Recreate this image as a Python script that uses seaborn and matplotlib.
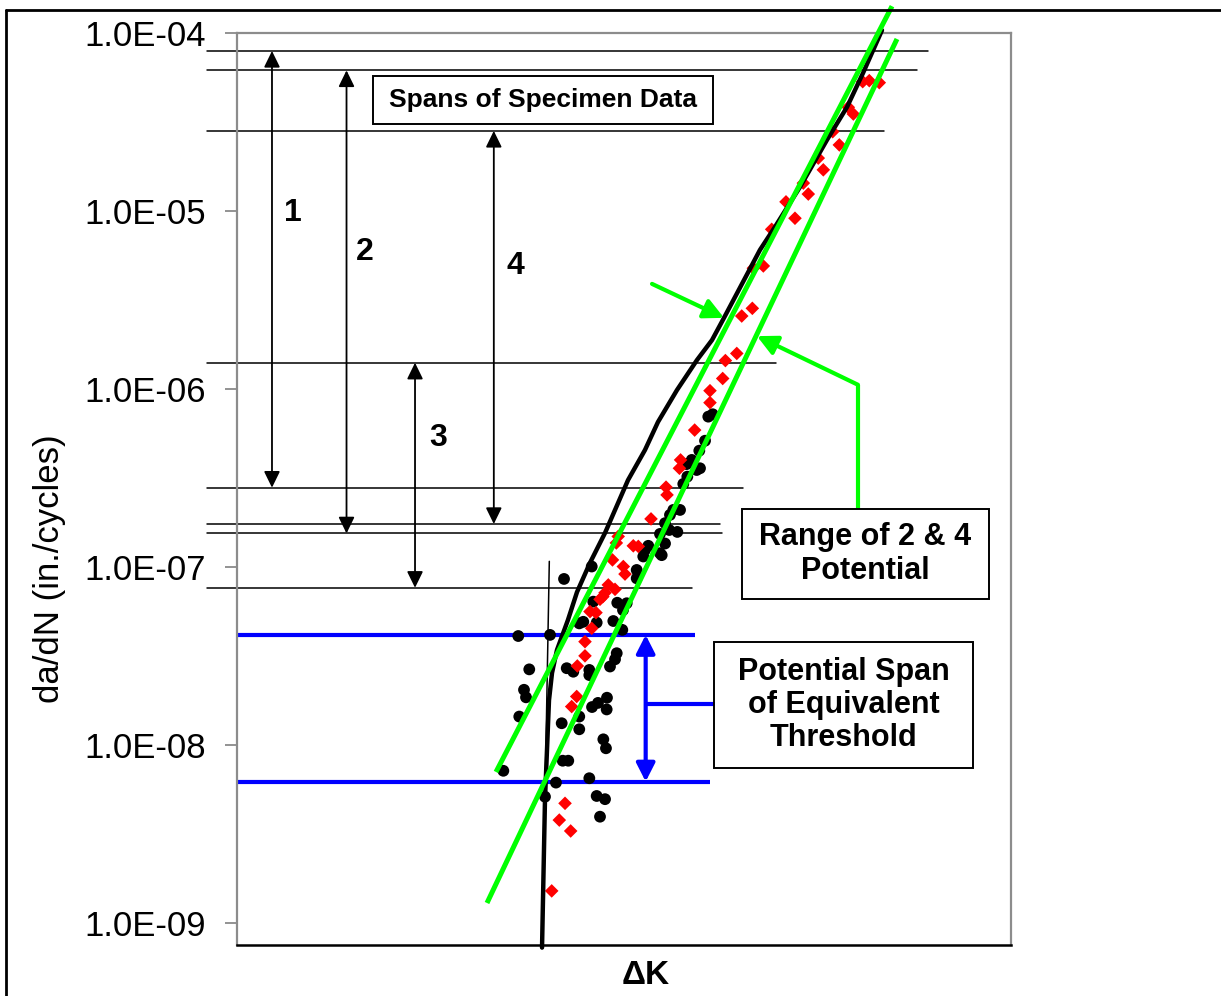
import matplotlib
matplotlib.use("Agg")
import matplotlib.pyplot as plt
import seaborn as sns
import pandas as pd
from matplotlib.patches import Rectangle
from matplotlib.lines import Line2D
from matplotlib.ticker import NullLocator

# ---------------- data ----------------
black_dk = [61.46, 60.89, 60.47, 59.73, 58.75, 58.10, 59.82, 59.39, 58.18, 57.66,
            56.37, 57.24, 55.94, 55.30, 55.85, 56.89, 54.65, 55.30, 53.14, 52.71,
            54.65, 52.49, 54.87, 51.64, 51.64, 45.83, 42.25, 46.03, 49.13, 50.35,
            44.74, 44.22, 46.47, 48.62, 49.78, 36.34, 40.44, 49.06, 48.84, 48.19,
            42.60, 43.45, 45.52, 45.52, 37.76, 37.08, 37.34, 47.80, 46.64, 45.87,
            47.76, 36.47, 41.95, 44.22, 44.22, 47.33, 47.67, 42.08, 42.80, 34.41,
            41.21, 45.52, 46.47, 47.55, 46.90, 39.79, 49.87]
black_rate = [7.24e-7, 7.02e-7, 5.14e-7, 4.52e-7, 4.01e-7, 3.80e-7, 3.60e-7, 3.52e-7, 3.23e-7, 2.94e-7,
              2.10e-7, 2.10e-7, 1.97e-7, 1.77e-7, 1.62e-7, 1.58e-7, 1.54e-7, 1.36e-7, 1.32e-7, 1.25e-7,
              1.20e-7, 1.15e-7, 1.17e-7, 9.66e-8, 8.67e-8, 1.01e-7, 8.6e-8, 6.41e-8, 6.32e-8, 6.28e-8,
              4.94e-8, 4.84e-8, 4.89e-8, 4.99e-8, 4.45e-8, 4.11e-8, 4.17e-8, 3.29e-8, 3.04e-8, 2.77e-8,
              2.71e-8, 2.59e-8, 2.65e-8, 2.48e-8, 2.67e-8, 2.05e-8, 1.86e-8, 1.85e-8, 1.73e-8, 1.64e-8,
              1.59e-8, 1.45e-8, 1.33e-8, 1.45e-8, 1.23e-8, 1.08e-8, 9.62e-9, 8.19e-9, 8.19e-9, 7.19e-9,
              6.17e-9, 6.53e-9, 5.19e-9, 4.98e-9, 3.97e-9, 5.14e-9, 5.75e-8]

red_dk = [82.98, 81.69, 80.84, 78.98, 79.63, 76.96, 77.82, 75.10, 75.75, 73.17,
          73.81, 70.93, 72.09, 69.08, 68.00, 66.71, 66.58, 65.21, 64.57, 63.10,
          62.75, 61.11, 61.11, 59.13, 57.31, 57.16, 55.43, 55.56, 53.49, 49.25,
          49.01, 51.20, 51.85, 48.51, 49.91, 50.13, 47.97, 48.84, 47.55, 47.27,
          46.90, 45.61, 46.38, 45.83, 44.96, 44.96, 43.97, 43.89, 43.24, 42.38,
          41.64, 43.11, 40.66]
red_rate = [5.28e-5, 5.42e-5, 5.35e-5, 3.84e-5, 3.52e-5, 2.80e-5, 2.36e-5, 1.99e-5, 1.71e-5, 1.44e-5,
            1.25e-5, 1.13e-5, 9.14e-6, 7.92e-6, 4.93e-6, 4.79e-6, 2.85e-6, 2.58e-6, 1.59e-6, 1.45e-6,
            1.15e-6, 9.82e-7, 8.41e-7, 5.90e-7, 4.01e-7, 3.60e-7, 2.82e-7, 2.55e-7, 1.87e-7, 1.49e-7,
            1.37e-7, 1.32e-7, 1.31e-7, 1.10e-7, 1.01e-7, 9.16e-8, 7.96e-8, 7.52e-8, 7.19e-8, 6.84e-8,
            6.61e-8, 5.64e-8, 5.56e-8, 4.54e-8, 3.82e-8, 3.18e-8, 2.79e-8, 1.88e-8, 1.65e-8, 4.72e-9,
            3.80e-9, 3.30e-9, 1.52e-9]

curve_dk = [39.41, 39.79, 40.31, 40.70, 41.34, 42.76, 43.93, 45.61, 47.55, 50.52, 52.71, 54.39,
            56.85, 59.43, 61.37, 62.92, 67.57, 69.51, 72.74, 76.23, 78.81, 80.88, 83.33]
curve_rate = [7.3e-10, 4.93e-9, 1.79e-8, 2.55e-8, 3.43e-8, 5.06e-8, 7.26e-8, 1.06e-7, 1.56e-7,
              3.09e-7, 4.56e-7, 6.55e-7, 9.91e-7, 1.46e-6, 1.89e-6, 2.52e-6, 6.07e-6, 8.17e-6,
              1.37e-5, 2.52e-5, 3.85e-5, 5.98e-5, 1.04e-4]

green_upper_dk = [33.46, 84.63]
green_upper_rate = [7.08e-9, 1.42e-4]
green_lower_dk = [32.30, 85.27]
green_lower_rate = [1.30e-9, 9.29e-5]

guide_dk = [40.35, 39.79]
guide_rate = [1.08e-7, 4.93e-9]

span_levels = [7.96e-5, 6.19e-5, 2.83e-5, 1.41e-6, 2.80e-7, 1.75e-7, 1.55e-7, 7.67e-8]
span_line_end = [89.28, 87.86, 83.59, 69.64, 65.37, 62.35, 62.60, 58.75]

span_labels = ["1", "2", "3", "4"]
span_x = [4.52, 14.15, 23.00, 33.18]
span_top = [7.96e-5, 6.19e-5, 1.41e-6, 2.83e-5]
span_bottom = [2.80e-7, 1.55e-7, 7.67e-8, 1.75e-7]
span_label_x = [7.24, 16.54, 25.97, 35.92]
span_label_y = [9.78e-6, 5.90e-6, 5.32e-7, 4.93e-6]

threshold_levels = [4.17e-8, 6.25e-9]
threshold_end = [59.17, 61.11]

ytick_vals = [1e-9, 1e-8, 1e-7, 1e-6, 1e-5, 1e-4]
ytick_labels = ["1.0E-09", "1.0E-08", "1.0E-07", "1.0E-06", "1.0E-05", "1.0E-04"]

# ---------------- figure ----------------
sns.set_theme(style="white")
plt.rcParams['font.family'] = ['Liberation Sans', 'DejaVu Sans']
plt.rcParams['text.color'] = 'black'
plt.rcParams['axes.labelcolor'] = 'black'
plt.rcParams['ytick.color'] = 'black'
plt.rcParams['xtick.color'] = 'black'

W, H = 1221, 996
fig = plt.figure(figsize=(W / 100, H / 100), dpi=100)


def fx(px):
    return px / W


def fy(py):
    return 1 - py / H


ax = fig.add_axes([fx(237), fy(945), fx(1011) - fx(237), fy(33.3) - fy(945)])
ax.set_yscale('log')
ax.set_xlim(0, 100)
ax.set_ylim(7.55e-10, 1e-4)

black_df = pd.DataFrame({"dK": black_dk, "rate": black_rate})
red_df = pd.DataFrame({"dK": red_dk, "rate": red_rate})

# threshold lines (blue)
for lvl, end in zip(threshold_levels, threshold_end):
    ax.plot([0, end], [lvl, lvl], color='#0000ff', lw=3, clip_on=False, zorder=2,
            solid_capstyle='butt')

sns.scatterplot(data=black_df, x="dK", y="rate", ax=ax, color='black', marker='o',
                s=72, edgecolor='none', legend=False, zorder=3)
sns.scatterplot(data=red_df, x="dK", y="rate", ax=ax, color='#ff0000', marker='D',
                s=48, edgecolor='none', legend=False, zorder=3)

ax.plot(guide_dk, guide_rate, color='black', lw=1.1, zorder=3)
sns.lineplot(x=curve_dk, y=curve_rate, ax=ax, sort=False, estimator=None,
             color='black', lw=3.2, zorder=4)
ax.lines[-1].set_clip_on(False)

ax.plot(green_upper_dk, green_upper_rate, color='#00ff00', lw=3.6, clip_on=False, zorder=5,
        solid_capstyle='butt')
ax.plot(green_lower_dk, green_lower_rate, color='#00ff00', lw=3.6, clip_on=False, zorder=5,
        solid_capstyle='butt')

# span lines
for lvl, end in zip(span_levels, span_line_end):
    ax.plot([-3.88, end], [lvl, lvl], color='black', lw=1.1, clip_on=False, zorder=2)

for x, top, bot in zip(span_x, span_top, span_bottom):
    ax.annotate('', xy=(x, bot), xytext=(x, top),
                arrowprops=dict(arrowstyle='<|-|>,head_length=0.45,head_width=0.22',
                                color='black', lw=1.3, mutation_scale=22,
                                shrinkA=0, shrinkB=0), annotation_clip=False)

for lab, x, y in zip(span_labels, span_label_x, span_label_y):
    ax.text(x, y, lab, ha='center', va='center', fontsize=23, fontweight='bold',
            color='black')

# blue double arrow + connector
ax.annotate('', xy=(52.80, threshold_levels[1]), xytext=(52.80, threshold_levels[0]),
            arrowprops=dict(arrowstyle='<|-|>,head_length=0.55,head_width=0.28',
                            color='#0000ff', lw=3, mutation_scale=20,
                            shrinkA=0, shrinkB=0), zorder=2)
ax.plot([52.80, 61.63], [1.71e-8, 1.71e-8], color='#0000ff', lw=3, clip_on=False, zorder=2)

# green arrows
ax.annotate('', xy=(62.92, 2.52e-6), xytext=(53.62, 3.91e-6),
            arrowprops=dict(arrowstyle='-|>,head_length=0.6,head_width=0.3',
                            color='#00ff00', lw=3, mutation_scale=20,
                            shrinkA=0, shrinkB=0), zorder=6)
ax.annotate('', xy=(67.18, 1.99e-6), xytext=(80.23, 1.06e-6),
            arrowprops=dict(arrowstyle='-|>,head_length=0.6,head_width=0.3',
                            color='#00ff00', lw=3, mutation_scale=20,
                            shrinkA=0, shrinkB=0), zorder=6)
ax.plot([80.23, 80.23], [1.06e-6, 2.13e-7], color='#00ff00', lw=3, zorder=6,
        solid_capstyle='butt')

# axes styling
for side in ['left', 'top', 'right']:
    ax.spines[side].set_color('#8c8c8c')
    ax.spines[side].set_linewidth(1.6)
ax.spines['bottom'].set_color('black')
ax.spines['bottom'].set_linewidth(1.8)
ax.set_xticks([])
ax.set_yticks(ytick_vals)
ax.set_yticklabels(ytick_labels)
ax.yaxis.set_minor_locator(NullLocator())
ax.tick_params(axis='y', direction='out', length=8.6, width=1.2, color='#808080',
               labelcolor='black', labelsize=25, pad=14, left=True)
ax.set_xlabel('')
ax.set_ylabel('')
ax.grid(False)

fig.text(fx(646), fy(975), 'ΔK', ha='center', va='center', fontsize=24, fontweight='bold',
         color='black')
fig.text(fx(50), fy(569), 'da/dN (in./cycles)', rotation=90, ha='center', va='center',
         fontsize=25, color='black')


# boxes
def box(x0, y0, x1, y1, text, size):
    r = Rectangle((fx(x0), fy(y1)), fx(x1) - fx(x0), fy(y0) - fy(y1),
                  transform=fig.transFigure, facecolor='white', edgecolor='black',
                  lw=1.4, zorder=10)
    fig.add_artist(r)
    fig.text(fx((x0 + x1) / 2), fy((y0 + y1) / 2), text, ha='center', va='center',
             fontsize=size, fontweight='bold', linespacing=1.15, zorder=11, color='black')


box(373, 76, 713, 124, 'Spans of Specimen Data', 19)
box(742, 509, 989, 599, 'Range of 2 & 4\nPotential', 22)
box(714, 642, 973, 768, 'Potential Span\nof Equivalent\nThreshold', 22)

# outer frame
fig.add_artist(Line2D([fx(6), fx(6)], [0, fy(10)], transform=fig.transFigure,
                      color='black', lw=2))
fig.add_artist(Line2D([fx(6), 1], [fy(10), fy(10)], transform=fig.transFigure,
                      color='black', lw=2))

fig.savefig('out.png', dpi=100)
